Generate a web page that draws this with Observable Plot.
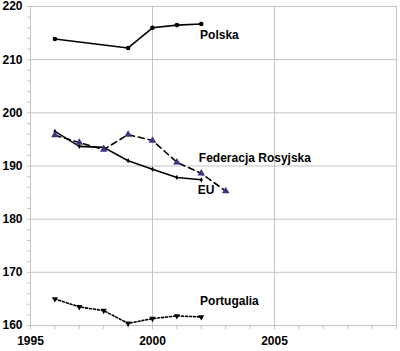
<!DOCTYPE html>
<html><head><meta charset="utf-8">
<script src="https://cdn.jsdelivr.net/npm/d3@7"></script>
<script src="https://cdn.jsdelivr.net/npm/@observablehq/plot@0.6"></script>
<style>body{margin:0;background:#fff;}</style>
</head><body><div id="chart"></div>
<script>
const polskaYears = [1996, 1999, 2000, 2001, 2002];
const polska = [213.9, 212.2, 216.0, 216.5, 216.7];
const euYears = [1996, 1997, 1998, 1999, 2000, 2001, 2002];
const eu = [196.5, 193.7, 193.5, 191.0, 189.4, 187.85, 187.4];
const rosjaYears = [1996, 1997, 1998, 1999, 2000, 2001, 2002, 2003];
const rosja = [195.8, 194.4, 193.1, 195.9, 194.8, 190.7, 188.6, 185.3];
const portYears = [1996, 1997, 1998, 1999, 2000, 2001, 2002];
const portugalia = [165.0, 163.5, 162.8, 160.4, 161.3, 161.8, 161.6];
const labelNames = ["Polska", "Federacja Rosyjska", "EU", "Portugalia"];
const labelX = [2001.95, 2001.9, 2001.85, 2001.95];
const labelY = [214.55, 191.4, 185.5, 164.6];
const xTicks = [1995, 2000, 2005];
const yTicks = [160, 170, 180, 190, 200, 210, 220];

const mk = (xs, vs) => xs.map((x, i) => ({x, y: vs[i]}));
const P = mk(polskaYears, polska), E = mk(euYears, eu), R = mk(rosjaYears, rosja), T = mk(portYears, portugalia);
const labels = labelNames.map((t, i) => ({t, x: labelX[i], y: labelY[i]}));
const grid = "#c4c4c4";

const chart = Plot.plot({
  width: 400, height: 351,
  marginLeft: 30, marginRight: 4, marginTop: 6, marginBottom: 26,
  style: {fontFamily: "Liberation Sans, Arial, sans-serif", color: "#000", background: "#fff"},
  x: {domain: [1995, 2010]},
  y: {domain: [160, 220]},
  marks: [
    Plot.gridY(yTicks, {stroke: grid, strokeOpacity: 1, strokeWidth: 1}),
    Plot.gridX([2000, 2005, 2010], {stroke: grid, strokeOpacity: 1, strokeWidth: 1}),
    Plot.ruleX([1995], {stroke: grid, strokeWidth: 1}),
    Plot.ruleY([160], {stroke: grid, strokeWidth: 1}),
    Plot.axisX(d3.range(1995, 2011), {tickSize: 4, text: null, label: null, stroke: grid, strokeOpacity: 1}),
    Plot.axisY(d3.range(160, 221, 2), {tickSize: 3, text: null, label: null, stroke: grid, strokeOpacity: 1}),
    Plot.axisX(xTicks, {tickSize: 0, tickPadding: 11, fontSize: 12, fontWeight: "bold", label: null, tickFormat: "d"}),
    Plot.axisY(yTicks, {tickSize: 0, tickPadding: 8, fontSize: 12, fontWeight: "bold", label: null, tickFormat: "d"}),
    Plot.line(P, {x: "x", y: "y", stroke: "#000", strokeWidth: 1.6}),
    Plot.dot(P, {x: "x", y: "y", r: 2.3, fill: "#000"}),
    Plot.line(E, {x: "x", y: "y", stroke: "#000", strokeWidth: 1.6}),
    Plot.dot(E, {x: "x", y: "y", r: 1.6, fill: "#000", symbol: "diamond"}),
    Plot.line(R, {x: "x", y: "y", stroke: "#000", strokeWidth: 1.6, strokeDasharray: "6,4"}),
    Plot.dot(R, {x: "x", y: "y", r: 2.8, fill: "#3a3585", symbol: "triangle"}),
    Plot.line(T, {x: "x", y: "y", stroke: "#000", strokeWidth: 1.6, strokeDasharray: "2,2"}),
    Plot.dot(T, {x: "x", y: "y", r: 2.3, fill: "#000", symbol: "triangle", rotate: 180}),
    Plot.text(labels, {x: "x", y: "y", text: "t", textAnchor: "start", fontSize: 12, fontWeight: "bold", fill: "#000"})
  ]
});
document.getElementById("chart").appendChild(chart);
</script>
</body></html>
